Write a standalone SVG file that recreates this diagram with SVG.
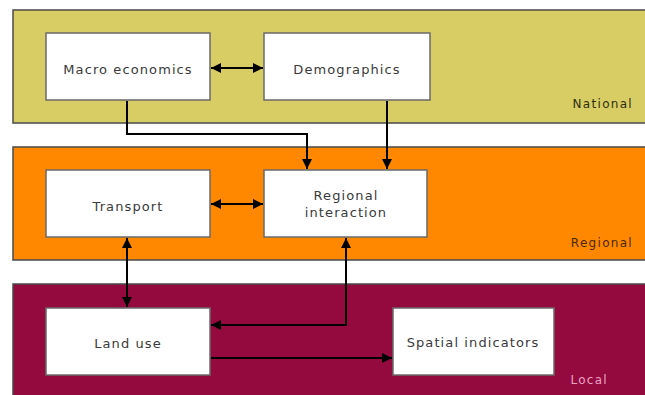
<svg xmlns="http://www.w3.org/2000/svg" width="645" height="395" viewBox="0 0 645 395">
<style>
.band{stroke:#4a4a4a;stroke-width:1.5}
.box{fill:#ffffff;stroke:#6a6a6a;stroke-width:1.5}
.lbl{font-family:"DejaVu Sans",Verdana,sans-serif;font-size:13px;letter-spacing:1.1px;fill:#3a3a3a;text-anchor:middle}
.lvl{font-family:"DejaVu Sans",Verdana,sans-serif;font-size:12px;letter-spacing:1.3px;text-anchor:end}
.con{fill:none;stroke:#000;stroke-width:2}
</style>
<defs>
<marker id="ah" viewBox="0 0 10 10" refX="10" refY="5" markerWidth="5" markerHeight="5" orient="auto-start-reverse" markerUnits="strokeWidth">
<path d="M0,0 L10,5 L0,10 z" fill="#000"/>
</marker>
</defs>
<rect width="645" height="395" fill="#ffffff"/>
<g id="band-national">
<rect class="band" x="13" y="10" width="640" height="113" fill="#d8cd64"/>
<text class="lvl" x="633" y="108" fill="#2e2e10">National</text>
</g>
<g id="band-regional">
<rect class="band" x="13" y="147" width="640" height="113" fill="#ff8800"/>
<text class="lvl" x="633" y="247" fill="#4a2a00">Regional</text>
</g>
<g id="band-local">
<rect class="band" x="13" y="284" width="640" height="120" fill="#940a3f"/>
<text class="lvl" x="608" y="384" fill="#e9a2c2">Local</text>
</g>
<g id="connectors">
<line class="con" x1="211" y1="68" x2="263" y2="68" marker-start="url(#ah)" marker-end="url(#ah)"/>
<polyline class="con" points="127,101 127,134 307,134 307,169" marker-end="url(#ah)"/>
<line class="con" x1="387" y1="101" x2="387" y2="169" marker-end="url(#ah)"/>
<line class="con" x1="211" y1="204" x2="263" y2="204" marker-start="url(#ah)" marker-end="url(#ah)"/>
<line class="con" x1="127" y1="238" x2="127" y2="307" marker-start="url(#ah)" marker-end="url(#ah)"/>
<polyline class="con" points="346,238 346,325 211,325" marker-start="url(#ah)" marker-end="url(#ah)"/>
<line class="con" x1="211" y1="358" x2="392" y2="358" marker-end="url(#ah)"/>
</g>
<g id="macro-economics">
<rect class="box" x="46" y="33" width="164" height="67"/>
<text class="lbl" x="128" y="74">Macro economics</text>
</g>
<g id="demographics">
<rect class="box" x="264" y="33" width="166" height="67"/>
<text class="lbl" x="347" y="74">Demographics</text>
</g>
<g id="transport">
<rect class="box" x="46" y="170" width="164" height="67"/>
<text class="lbl" x="128" y="211">Transport</text>
</g>
<g id="regional-interaction">
<rect class="box" x="264" y="170" width="163" height="67"/>
<text class="lbl" x="346" y="200">Regional</text>
<text class="lbl" x="346" y="217">interaction</text>
</g>
<g id="land-use">
<rect class="box" x="46" y="308" width="164" height="67"/>
<text class="lbl" x="128" y="348">Land use</text>
</g>
<g id="spatial-indicators">
<rect class="box" x="393" y="308" width="161" height="67"/>
<text class="lbl" x="473" y="347">Spatial indicators</text>
</g>
</svg>
